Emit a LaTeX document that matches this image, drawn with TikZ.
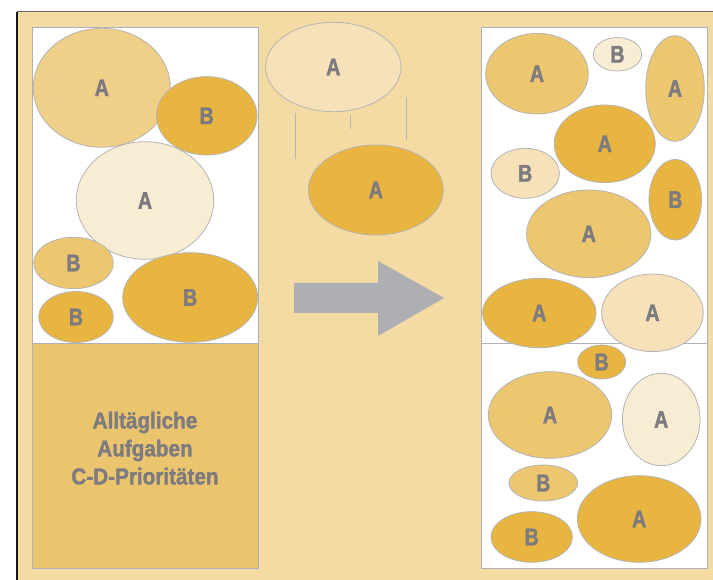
\documentclass[tikz,border=0pt]{standalone}
\usepackage{fontspec}
\usetikzlibrary{shapes.geometric}
\newfontfamily\lblfont{Liberation Sans Bold}[FakeStretch=0.82,FakeBold=1.6]
\newfontfamily\txtfont{Liberation Sans Bold}[FakeStretch=0.9,FakeBold=1.4]
\definecolor{bgc}{HTML}{F3DBA3}
\definecolor{dk}{HTML}{E8B541}
\definecolor{md}{HTML}{EDC670}
\definecolor{mdl}{HTML}{F0CF88}
\definecolor{lt}{HTML}{F6E1B8}
\definecolor{vl}{HTML}{F8ECD3}
\definecolor{lowc}{HTML}{EBC56E}
\definecolor{ebord}{HTML}{B4B4B4}
\definecolor{bbord}{HTML}{ACB2BA}
\definecolor{txtc}{HTML}{7D7B80}
\definecolor{arrc}{HTML}{AEAFB3}
\tikzset{
  ell/.style={ellipse, draw=ebord, line width=0.8pt, inner sep=0pt,
    text=txtc, font={\lblfont\fontsize{24}{24}\selectfont}},
  E/.style n args={2}{ell, minimum width=#1pt, minimum height=#2pt},
  dkf/.style={fill=dk}, mdf/.style={fill=md}, mdlf/.style={fill=mdl},
  ltf/.style={fill=lt}, vlf/.style={fill=vl},
  boxline/.style={draw=bbord, line width=0.9pt},
  guide/.style={draw=ebord, line width=0.8pt}
}
\begin{document}
\begin{tikzpicture}[x=1pt,y=-1pt]
\useasboundingbox (0,0) rectangle (713,580);
% background
\fill[bgc] (17,12) rectangle (713,580);
\draw[line width=1pt, draw=black!60] (17,12) -- (713,12);
\draw[line width=1.6pt, draw=black!90] (17,12) -- (17,580);

% left box
\fill[white] (32,27) rectangle (258,343);
\fill[lowc] (32,343) rectangle (258,568);
\draw[boxline] (32,27) rectangle (258,568);
\draw[boxline] (32,343) -- (258,343);

\node[E={137}{119}, mdlf] (l1) at (101.8,87.8) {A};
\node[E={100.6}{78.4}, dkf] (l2) at (206.7,115.8) {B};
\node[E={137.4}{117.6}, vlf] (l3) at (145,200.5) {A};
\node[E={79.6}{51.4}, mdf] (l4) at (73.5,263) {B};
\node[E={135}{89.6}, dkf] (l5) at (190.2,297.5) {B};
\node[E={74.6}{51}, dkf] (l6) at (76,317) {B};

\node[anchor=north, inner sep=0pt, align=center, text=txtc,
  font={\txtfont\fontsize{23}{28}\selectfont}] (cd) at (145,411.5)
  {Alltägliche\\Aufgaben\\C-D-Prioritäten};

% middle
\node[E={135.4}{89.4}, ltf] (m1) at (333.3,67) {A};
\node[E={135}{90}, dkf] (m2) at (375.8,190) {A};
\draw[guide] (295.3,113) -- (295.3,159);
\draw[guide] (350.7,115) -- (350.7,129);
\draw[guide] (406,97) -- (406,140);

% arrow
\fill[arrc] (294,283) -- (378,283) -- (378,261) -- (444,298) -- (378,336)
  -- (378,313) -- (294,313) -- cycle;

% right box
\fill[white] (481,27) rectangle (707,568);
\draw[boxline] (481,27) rectangle (707,568);
\draw[boxline] (481,343) -- (707,343);

\node[E={102.6}{80.6}, mdf] (r1) at (537,73.7) {A};
\node[E={48.4}{33.4}, vlf] (r2) at (617.5,54.3) {B};
\node[E={58.6}{105.6}, mdf] (r3) at (675,88.5) {A};
\node[E={101}{77.6}, dkf] (r4) at (604.8,143.8) {A};
\node[E={68.4}{50}, ltf] (r5) at (525.2,173.3) {B};
\node[E={52.6}{80.6}, dkf] (r6) at (675.3,199.7) {B};
\node[E={124.4}{87.6}, mdf] (r7) at (588.8,233.8) {A};
\node[E={113.4}{69.4}, dkf] (r8) at (539.3,313) {A};
\node[E={101.6}{77.6}, ltf] (r9) at (652.5,312.8) {A};
\node[E={48}{34}, dkf] (r10) at (601.7,362) {B};
\node[E={123.4}{86.6}, mdf] (r11) at (550,415) {A};
\node[E={77.6}{92.4}, vlf] (r12) at (661.2,419.5) {A};
\node[E={68.6}{36}, mdf] (r13) at (543.3,483) {B};
\node[E={123.6}{86.6}, dkf] (r14) at (639.2,519) {A};
\node[E={81.4}{50.6}, dkf] (r15) at (531.7,537) {B};
\end{tikzpicture}
\end{document}
